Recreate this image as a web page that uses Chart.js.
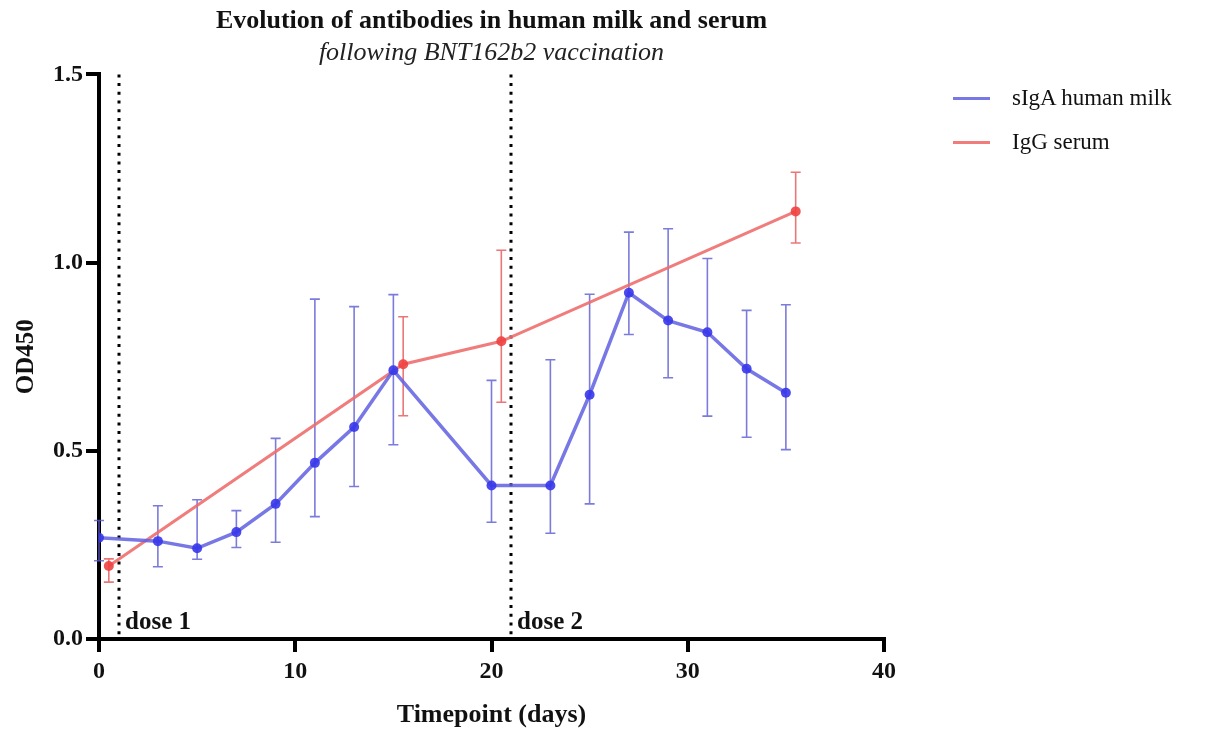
<!DOCTYPE html>
<html>
<head>
<meta charset="utf-8">
<script src="https://cdn.jsdelivr.net/npm/chart.js@4.4.1/dist/chart.umd.min.js"></script>
<style>
  html, body { margin: 0; padding: 0; background: #fff; }
  #wrap { position: relative; width: 1219px; height: 734px; }
  #legend {
    position: absolute; left: 953px; top: 76px;
    font-family: "Liberation Serif", "Times New Roman", serif; font-size: 23px; color: #111;
  }
  .item { display: flex; align-items: center; height: 44px; }
  .swatch { width: 37px; height: 3px; margin-right: 22px; }
</style>
</head>
<body>
<div id="wrap">
  <canvas id="chart" width="1219" height="734"></canvas>
  <div id="legend"></div>
</div>
<script>
// sIgA in human milk
const milkDays = [0, 3, 5, 7, 9, 11, 13, 15, 20, 23, 25, 27, 29, 31, 33, 35];
const milkMean = [0.269, 0.260, 0.241, 0.284, 0.359, 0.468, 0.563, 0.714, 0.408, 0.408, 0.649, 0.920, 0.846, 0.815, 0.718, 0.654];
const milkHigh = [0.315, 0.354, 0.370, 0.341, 0.533, 0.903, 0.883, 0.915, 0.687, 0.742, 0.916, 1.081, 1.090, 1.011, 0.873, 0.888];
const milkLow  = [0.208, 0.192, 0.212, 0.243, 0.257, 0.325, 0.405, 0.516, 0.310, 0.281, 0.359, 0.809, 0.694, 0.592, 0.536, 0.503];

// IgG in serum
const serumDays = [0.5, 15.5, 20.5, 35.5];
const serumMean = [0.194, 0.730, 0.791, 1.136];
const serumHigh = [0.213, 0.856, 1.033, 1.240];
const serumLow  = [0.151, 0.593, 0.629, 1.052];

const doseDays = [1, 21];
const doseLabels = ['dose 1', 'dose 2'];
const xTicks = [0, 10, 20, 30, 40];
const yTicks = [0, 0.5, 1.0, 1.5];

const SERIF = '"Liberation Serif", "Times New Roman", serif';
const BLUE_LINE = 'rgba(95, 95, 225, 0.85)';
const BLUE_DOT = 'rgba(55, 55, 235, 0.9)';
const BLUE_BAR = 'rgba(90, 90, 210, 0.8)';
const RED_LINE = 'rgba(238, 110, 110, 0.9)';
const RED_DOT = 'rgba(240, 65, 65, 0.9)';
const RED_BAR = 'rgba(230, 95, 95, 0.85)';

const toPoints = (xs, ys) => xs.map((x, i) => ({ x: x, y: ys[i] }));

const datasets = [
  {
    label: 'sIgA human milk',
    data: toPoints(milkDays, milkMean),
    low: milkLow, high: milkHigh, barColor: BLUE_BAR,
    borderColor: BLUE_LINE, backgroundColor: BLUE_DOT,
    pointBackgroundColor: BLUE_DOT, pointBorderWidth: 0,
    borderWidth: 3.5, pointRadius: 5, tension: 0
  },
  {
    label: 'IgG serum',
    data: toPoints(serumDays, serumMean),
    low: serumLow, high: serumHigh, barColor: RED_BAR,
    borderColor: RED_LINE, backgroundColor: RED_DOT,
    pointBackgroundColor: RED_DOT, pointBorderWidth: 0,
    borderWidth: 3, pointRadius: 5, tension: 0
  }
];

// error bars and dose markers, drawn from the scales
const extras = {
  id: 'extras',
  beforeDatasetsDraw(chart) {
    const ctx = chart.ctx;
    const xs = chart.scales.x, ys = chart.scales.y;
    const area = chart.chartArea;
    ctx.save();
    // dotted dose lines
    ctx.strokeStyle = '#000';
    ctx.lineWidth = 3;
    ctx.setLineDash([3, 5.7]);
    doseDays.forEach((d, i) => {
      const px = Math.round(xs.getPixelForValue(d));
      ctx.beginPath();
      ctx.moveTo(px, area.top);
      ctx.lineTo(px, area.bottom);
      ctx.stroke();
      ctx.fillStyle = '#111';
      ctx.font = 'bold 25px ' + SERIF;
      ctx.textBaseline = 'alphabetic';
      ctx.fillText(doseLabels[i], px + 6, area.bottom - 10);
    });
    ctx.setLineDash([]);
    // error bars
    chart.data.datasets.forEach(ds => {
      ctx.strokeStyle = ds.barColor;
      ctx.lineWidth = 1.6;
      ds.data.forEach((p, i) => {
        const px = xs.getPixelForValue(p.x);
        const top = ys.getPixelForValue(ds.high[i]);
        const bot = ys.getPixelForValue(ds.low[i]);
        ctx.beginPath();
        ctx.moveTo(px, top); ctx.lineTo(px, bot);
        ctx.moveTo(px - 5, top); ctx.lineTo(px + 5, top);
        ctx.moveTo(px - 5, bot); ctx.lineTo(px + 5, bot);
        ctx.stroke();
      });
    });
    ctx.restore();
  }
};

const axisStyle = {
  border: { display: true, color: '#000', width: 4 },
  grid: { display: true, drawOnChartArea: false, color: '#000', lineWidth: 4, tickLength: 13 },
  ticks: { color: '#111', font: { family: SERIF, size: 24, weight: 'bold' } }
};

new Chart(document.getElementById('chart'), {
  type: 'line',
  data: { datasets: datasets },
  options: {
    responsive: false,
    animation: false,
    layout: { padding: { left: 12, right: 335, top: 2, bottom: 3 } },
    scales: {
      x: {
        type: 'linear', min: 0, max: 40,
        ...axisStyle,
        afterBuildTicks: s => { s.ticks = xTicks.map(v => ({ value: v })); },
        ticks: { ...axisStyle.ticks, padding: 5, callback: v => v },
        title: { display: true, text: 'Timepoint (days)', color: '#111',
                 font: { family: SERIF, size: 26, weight: 'bold' }, padding: { top: 9, bottom: 0 } }
      },
      y: {
        type: 'linear', min: 0, max: 1.5,
        ...axisStyle,
        afterBuildTicks: s => { s.ticks = yTicks.map(v => ({ value: v })); },
        ticks: { ...axisStyle.ticks, padding: 3, callback: v => v.toFixed(1) },
        title: { display: true, text: 'OD450', color: '#111',
                 font: { family: SERIF, size: 25, weight: 'bold' }, padding: { top: 0, bottom: 8 } }
      }
    },
    plugins: {
      legend: { display: false },
      tooltip: { enabled: false },
      title: {
        display: true, fullSize: false, text: 'Evolution of antibodies in human milk and serum',
        color: '#111', font: { family: SERIF, size: 26, weight: 'bold' }, padding: { top: 4, bottom: 0 }
      },
      subtitle: {
        display: true, fullSize: false, text: 'following BNT162b2 vaccination',
        color: '#222', font: { family: SERIF, size: 26, style: 'italic', weight: 'normal' }, padding: { top: 0, bottom: 6 }
      }
    }
  },
  plugins: [extras]
});

document.getElementById('legend').innerHTML = datasets.map(ds =>
  `<div class="item"><span class="swatch" style="background:${ds.borderColor}"></span>${ds.label}</div>`
).join('');
</script>
</body>
</html>
